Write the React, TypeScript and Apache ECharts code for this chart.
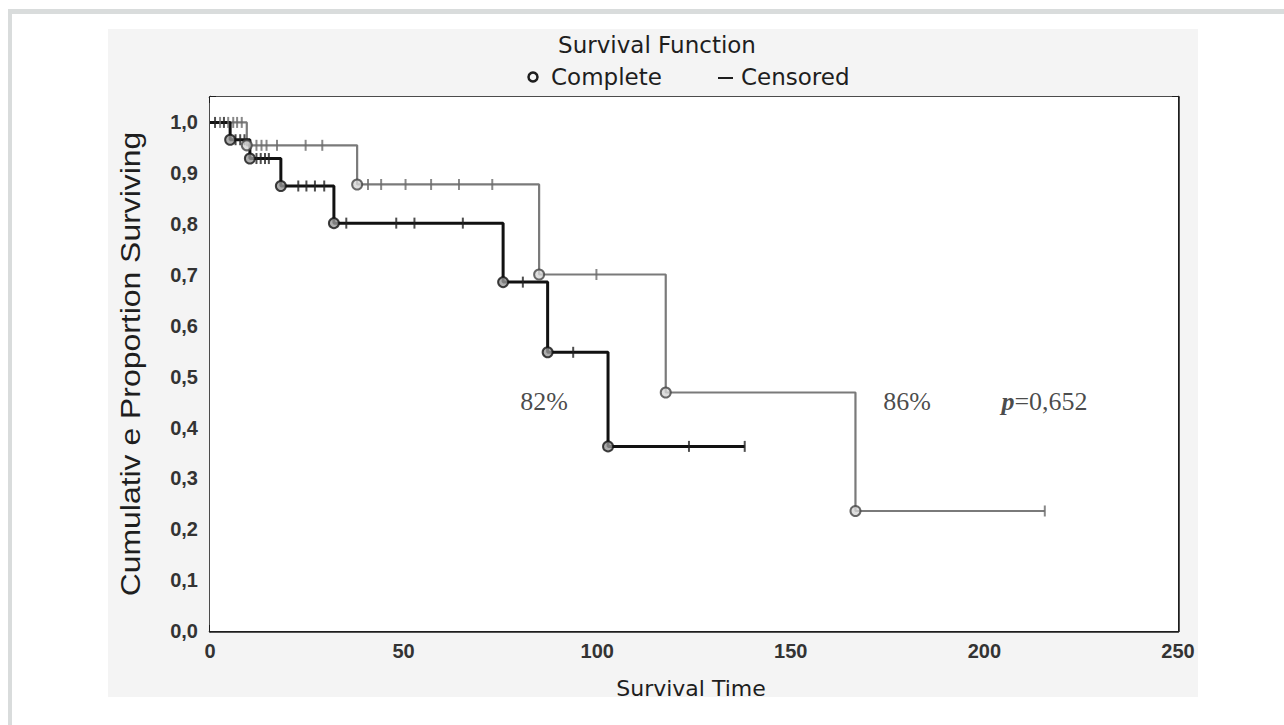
import React, { useEffect, useRef } from "react";
import * as echarts from "echarts";

// Kaplan–Meier step points (time, cumulative proportion surviving)
const greyTimes = [0, 9.5, 38, 85, 117.7, 166.7, 215.6];
const greySurv = [1.0, 0.955, 0.878, 0.701, 0.469, 0.236, 0.236];
const greyEventIdx = [1, 2, 3, 4, 5];
const greyCensored = [2.6, 4.7, 6.0, 7.0, 8.2, 12.0, 13.3, 14.6, 17.3, 24.7, 29.0, 40.8, 44.2, 50.5, 57.1, 64.3, 72.9, 99.8, 215.6];

const blackTimes = [0, 5.2, 10.3, 18.3, 32, 75.7, 87.2, 102.8, 138.1];
const blackSurv = [1.0, 0.966, 0.929, 0.875, 0.802, 0.686, 0.548, 0.363, 0.363];
const blackEventIdx = [1, 2, 3, 4, 5, 6, 7];
const blackCensored = [1.3, 3.6, 6.6, 7.8, 8.9, 12.0, 13.1, 14.2, 15.2, 22.8, 24.9, 27.1, 29.5, 35.2, 48.1, 52.8, 65.3, 80.8, 93.8, 123.7, 138.1];

const xTicks = [0, 50, 100, 150, 200, 250];
const annotations = [
  { t: 86.3, s: 0.452, text: "82%" },
  { t: 180, s: 0.452, text: "86%" },
];
const pValue = { t: 204.4, s: 0.452, text: "=0,652" };

const SANS = "'DejaVu Sans', 'Liberation Sans', sans-serif";
const ARIAL = "'Liberation Sans', Arial, sans-serif";
const SERIF = "'Liberation Serif', 'DejaVu Serif', serif";

function survAt(times: number[], surv: number[], t: number) {
  let s = surv[0];
  for (let i = 0; i < times.length; i++) if (times[i] <= t) s = surv[i];
  return s;
}

export default function App() {
  const ref = useRef<HTMLDivElement>(null);
  useEffect(() => {
    if (!ref.current) return;
    const chart = echarts.init(ref.current, null, { renderer: "svg" });
    const axisColor = "#1e1e1e";
    const gridColor = "#cfcfcf";
    const baseX = {
      type: "value",
      min: xTicks[0],
      max: xTicks[xTicks.length - 1],
      interval: 50,
      axisLine: { show: true, onZero: false, lineStyle: { color: axisColor, width: 2.5 } },
      axisTick: { show: true, inside: true, length: 6, lineStyle: { color: axisColor, width: 2 } },
      minorTick: { show: true, splitNumber: 5, length: 3, lineStyle: { color: axisColor, width: 2 } },
    };
    const baseY = {
      type: "value",
      min: 0,
      max: 1.05,
      interval: 0.1,
      axisLine: { show: true, onZero: false, lineStyle: { color: axisColor, width: 2.5 } },
      axisTick: { show: true, inside: true, length: 6, lineStyle: { color: axisColor, width: 2 } },
      minorTick: { show: true, splitNumber: 4, length: 3, lineStyle: { color: axisColor, width: 2 } },
    };
    const option = {
      animation: false,
      backgroundColor: "#ffffff",
      grid: {
        left: 210,
        right: 106,
        top: 97,
        bottom: 94,
        show: true,
        backgroundColor: "#ffffff",
        borderWidth: 0,
        z: 1,
      },
      xAxis: [
        {
          ...baseX,
          position: "bottom",
          splitLine: { show: true, lineStyle: { color: gridColor, width: 1.5 } },
          axisLabel: {
            show: true,
            fontFamily: ARIAL,
            fontWeight: "bold",
            fontSize: 20,
            color: "#333",
            margin: 10,
          },
        },
        {
          ...baseX,
          position: "top",
          splitLine: { show: false },
          axisLabel: { show: false },
        },
      ],
      yAxis: [
        {
          ...baseY,
          position: "left",
          splitLine: { show: true, lineStyle: { color: gridColor, width: 1.5 } },
          axisLabel: {
            show: true,
            fontFamily: ARIAL,
            fontWeight: "bold",
            fontSize: 20,
            color: "#333",
            margin: 12,
            formatter: (v: number) => (v > 1.001 ? "" : v.toFixed(1).replace(".", ",")),
          },
        },
        {
          ...baseY,
          position: "right",
          splitLine: { show: false },
          axisLabel: { show: false },
        },
      ],
      graphic: [
        { type: "rect", z: -10, shape: { x: 8, y: 9, width: 1276, height: 5 }, style: { fill: "#d9dcdc" } },
        { type: "rect", z: -10, shape: { x: 8, y: 9, width: 4, height: 716 }, style: { fill: "#d9dcdc" } },
        { type: "rect", z: -20, shape: { x: 108, y: 29, width: 1090, height: 668 }, style: { fill: "#f4f4f4" } },
        {
          type: "text",
          x: 657,
          y: 45,
          style: {
            text: "Survival Function",
            fontFamily: SANS,
            fontSize: 23,
            fill: "#1e1e1e",
            textAlign: "center",
            textVerticalAlign: "middle",
          },
        },
        {
          type: "circle",
          shape: { cx: 533, cy: 77, r: 4.5 },
          style: { fill: "none", stroke: "#1e1e1e", lineWidth: 2.5 },
        },
        {
          type: "text",
          x: 551,
          y: 77,
          style: {
            text: "Complete",
            fontFamily: SANS,
            fontSize: 23,
            fill: "#1e1e1e",
            textAlign: "left",
            textVerticalAlign: "middle",
          },
        },
        {
          type: "line",
          shape: { x1: 718, y1: 78, x2: 733, y2: 78 },
          style: { stroke: "#1e1e1e", lineWidth: 2 },
        },
        {
          type: "text",
          x: 741,
          y: 77,
          style: {
            text: "Censored",
            fontFamily: SANS,
            fontSize: 23,
            fill: "#1e1e1e",
            textAlign: "left",
            textVerticalAlign: "middle",
          },
        },
        {
          type: "text",
          x: 691,
          y: 688,
          style: {
            text: "Survival Time",
            fontFamily: SANS,
            fontSize: 22,
            fill: "#1e1e1e",
            textAlign: "center",
            textVerticalAlign: "middle",
          },
        },
        {
          type: "text",
          x: 130,
          y: 364,
          rotation: Math.PI / 2,
          scaleX: 1.33,
          scaleY: 1.15,
          style: {
            text: "Cumulativ e Proportion Surviving",
            fontFamily: ARIAL,
            fontSize: 24,
            fill: "#1e1e1e",
            textAlign: "center",
            textVerticalAlign: "middle",
          },
        },
      ],
      series: [
        {
          name: "Group 2",
          type: "line",
          step: "end",
          z: 3,
          showSymbol: false,
          data: greyTimes.map((t, i) => [t, greySurv[i]]),
          lineStyle: { color: "#7a7a7a", width: 2.2 },
          itemStyle: { color: "#7a7a7a" },
        },
        {
          name: "Group 1",
          type: "line",
          step: "end",
          z: 4,
          showSymbol: false,
          data: blackTimes.map((t, i) => [t, blackSurv[i]]),
          lineStyle: { color: "#111111", width: 3 },
          itemStyle: { color: "#111111" },
        },
        {
          name: "Censored G2",
          type: "scatter",
          z: 5,
          symbol: "rect",
          symbolSize: [2, 11],
          data: greyCensored.map((t) => [t, survAt(greyTimes, greySurv, t)]),
          itemStyle: { color: "#6a6a6a" },
        },
        {
          name: "Censored G1",
          type: "scatter",
          z: 6,
          symbol: "rect",
          symbolSize: [2, 11],
          data: blackCensored.map((t) => [t, survAt(blackTimes, blackSurv, t)]),
          itemStyle: { color: "#222222" },
        },
        {
          name: "Complete G2",
          type: "scatter",
          z: 7,
          symbol: "circle",
          symbolSize: 10,
          data: greyEventIdx.map((i) => [greyTimes[i], greySurv[i]]),
          itemStyle: { color: "#d6d6d6", borderColor: "#444", borderWidth: 2 },
        },
        {
          name: "Complete G1",
          type: "scatter",
          z: 8,
          symbol: "circle",
          symbolSize: 10,
          data: blackEventIdx.map((i) => [blackTimes[i], blackSurv[i]]),
          itemStyle: { color: "#999", borderColor: "#111", borderWidth: 2 },
        },
        {
          name: "Annotations",
          type: "scatter",
          z: 9,
          silent: true,
          symbolSize: 0,
          data: [
            ...annotations.map((a) => ({
              value: [a.t, a.s],
              name: a.text,
              label: {
                show: true,
                position: "inside",
                formatter: "{b}",
                fontFamily: SERIF,
                fontSize: 26,
                color: "#1a1a1a",
              },
            })),
            {
              value: [pValue.t, pValue.s],
              name: pValue.text,
              label: {
                show: true,
                position: "right",
                distance: 0,
                formatter: "{i|p}{n|" + pValue.text + "}",
                rich: {
                  i: { fontFamily: SERIF, fontSize: 26, fontStyle: "italic", fontWeight: "bold", color: "#1a1a1a" },
                  n: { fontFamily: SERIF, fontSize: 26, color: "#1a1a1a" },
                },
              },
            },
          ],
        },
      ],
    };
    chart.setOption(option as any);
    return () => chart.dispose();
  }, []);
  return (
    <div
      ref={ref}
      style={{ position: "fixed", left: 0, top: 0, width: 1284, height: 725, background: "#fff" }}
    />
  );
}
